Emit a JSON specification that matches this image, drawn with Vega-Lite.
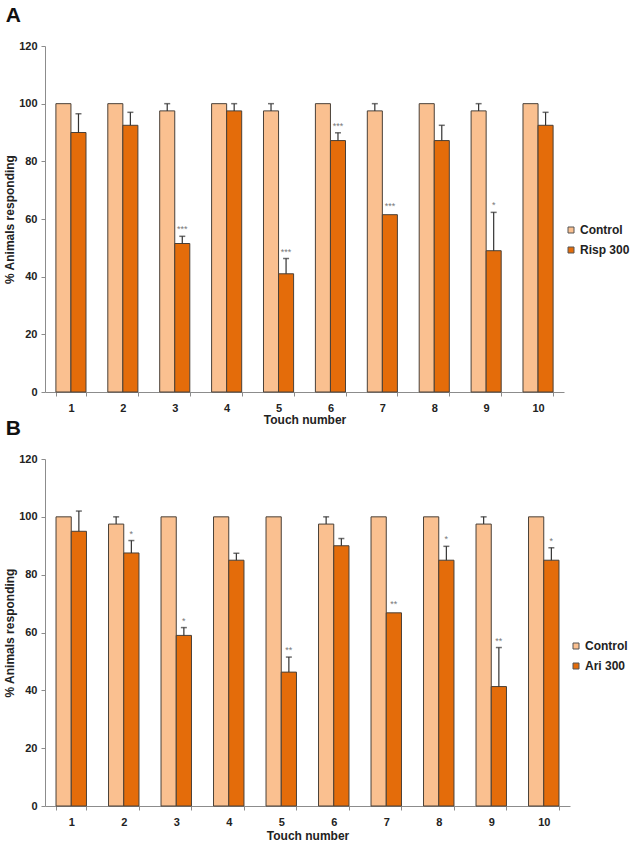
{
  "$schema": "https://vega.github.io/schema/vega-lite/v6.json",
  "background": "white",
  "padding": {"left": 3, "top": 5, "right": 2, "bottom": 5},
  "spacing": -7,
  "datasets": {
    "risp": [
      {"touch": 1, "group": "Control", "value": 100, "err": null, "star": ""},
      {"touch": 1, "group": "Risp 300", "value": 90, "err": 96.5, "star": ""},
      {"touch": 2, "group": "Control", "value": 100, "err": null, "star": ""},
      {"touch": 2, "group": "Risp 300", "value": 92.5, "err": 97, "star": ""},
      {"touch": 3, "group": "Control", "value": 97.5, "err": 100, "star": ""},
      {"touch": 3, "group": "Risp 300", "value": 51.5, "err": 54, "star": "***"},
      {"touch": 4, "group": "Control", "value": 100, "err": null, "star": ""},
      {"touch": 4, "group": "Risp 300", "value": 97.5, "err": 100, "star": ""},
      {"touch": 5, "group": "Control", "value": 97.5, "err": 100, "star": ""},
      {"touch": 5, "group": "Risp 300", "value": 41, "err": 46.3, "star": "***"},
      {"touch": 6, "group": "Control", "value": 100, "err": null, "star": ""},
      {"touch": 6, "group": "Risp 300", "value": 87.2, "err": 89.9, "star": "***"},
      {"touch": 7, "group": "Control", "value": 97.5, "err": 100, "star": ""},
      {"touch": 7, "group": "Risp 300", "value": 61.5, "err": null, "star": "***"},
      {"touch": 8, "group": "Control", "value": 100, "err": null, "star": ""},
      {"touch": 8, "group": "Risp 300", "value": 87.2, "err": 92.5, "star": ""},
      {"touch": 9, "group": "Control", "value": 97.5, "err": 100, "star": ""},
      {"touch": 9, "group": "Risp 300", "value": 49, "err": 62.3, "star": "*"},
      {"touch": 10, "group": "Control", "value": 100, "err": null, "star": ""},
      {"touch": 10, "group": "Risp 300", "value": 92.5, "err": 97, "star": ""}
    ],
    "ari": [
      {"touch": 1, "group": "Control", "value": 100, "err": null, "star": ""},
      {"touch": 1, "group": "Ari 300", "value": 95, "err": 102, "star": ""},
      {"touch": 2, "group": "Control", "value": 97.5, "err": 100, "star": ""},
      {"touch": 2, "group": "Ari 300", "value": 87.5, "err": 91.8, "star": "*"},
      {"touch": 3, "group": "Control", "value": 100, "err": null, "star": ""},
      {"touch": 3, "group": "Ari 300", "value": 59, "err": 61.7, "star": "*"},
      {"touch": 4, "group": "Control", "value": 100, "err": null, "star": ""},
      {"touch": 4, "group": "Ari 300", "value": 85, "err": 87.4, "star": ""},
      {"touch": 5, "group": "Control", "value": 100, "err": null, "star": ""},
      {"touch": 5, "group": "Ari 300", "value": 46.3, "err": 51.5, "star": "**"},
      {"touch": 6, "group": "Control", "value": 97.5, "err": 100, "star": ""},
      {"touch": 6, "group": "Ari 300", "value": 90, "err": 92.5, "star": ""},
      {"touch": 7, "group": "Control", "value": 100, "err": null, "star": ""},
      {"touch": 7, "group": "Ari 300", "value": 66.8, "err": null, "star": "**"},
      {"touch": 8, "group": "Control", "value": 100, "err": null, "star": ""},
      {"touch": 8, "group": "Ari 300", "value": 85, "err": 89.8, "star": "*"},
      {"touch": 9, "group": "Control", "value": 97.5, "err": 100, "star": ""},
      {"touch": 9, "group": "Ari 300", "value": 41.3, "err": 54.8, "star": "**"},
      {"touch": 10, "group": "Control", "value": 100, "err": null, "star": ""},
      {"touch": 10, "group": "Ari 300", "value": 85, "err": 89.3, "star": "*"}
    ]
  },
  "config": {
    "view": {"stroke": null},
    "font": "Liberation Sans",
    "axis": {
      "domainColor": "#8c8c8c",
      "tickColor": "#8c8c8c",
      "grid": false,
      "labelFont": "Liberation Sans",
      "labelFontWeight": "bold",
      "labelFontSize": 11,
      "labelColor": "#222222",
      "titleFont": "Liberation Sans",
      "titleFontWeight": "bold",
      "titleFontSize": 12,
      "titleColor": "#222222",
      "tickSize": 4
    },
    "legend": {
      "labelFont": "Liberation Sans",
      "labelFontWeight": "bold",
      "labelFontSize": 12,
      "labelColor": "#222222",
      "symbolType": "square",
      "symbolSize": 36,
      "symbolStrokeColor": "#555555",
      "symbolStrokeWidth": 1,
      "labelOffset": 3,
      "rowPadding": 8
    },
    "title": {"font": "Liberation Sans", "fontWeight": "bold", "fontSize": 21, "color": "#111111", "anchor": "start", "frame": "bounds"}
  },
  "vconcat": [
    {
      "width": 519,
      "height": 346,
      "title": {"text": "A", "offset": 14, "dx": 2},
      "data": {"name": "risp"},
      "encoding": {
        "x": {"field": "touch", "type": "ordinal", "scale": {"paddingInner": 0.42, "paddingOuter": 0.21},
              "axis": {"labelAngle": 0, "title": "Touch number", "tickBand": "extent", "labelPadding": 6, "titlePadding": 1}},
        "xOffset": {"field": "group", "type": "nominal", "sort": ["Control", "Risp 300"], "scale": {"paddingInner": 0, "paddingOuter": 0}}
      },
      "layer": [
        {
          "mark": {"type": "bar", "stroke": "#4a4038", "strokeWidth": 1},
          "encoding": {
            "y": {"field": "value", "type": "quantitative", "scale": {"domain": [0, 120]},
                  "axis": {"values": [0, 20, 40, 60, 80, 100, 120], "title": "% Animals responding", "labelPadding": 4, "titlePadding": 2}},
            "color": {"field": "group", "type": "nominal", "scale": {"domain": ["Control", "Risp 300"], "range": ["#FAC090", "#E46C0A"]},
                      "legend": {"title": null, "orient": "none", "legendX": 520, "legendY": 178}}
          }
        },
        {
          "transform": [{"filter": "datum.err != null"}],
          "mark": {"type": "rule", "color": "#333333", "strokeWidth": 1.2},
          "encoding": {"y": {"field": "value", "type": "quantitative"}, "y2": {"field": "err"}}
        },
        {
          "transform": [{"filter": "datum.err != null"}],
          "mark": {"type": "tick", "color": "#333333", "size": 6, "thickness": 1.5},
          "encoding": {"y": {"field": "err", "type": "quantitative"}}
        },
        {
          "transform": [{"filter": "datum.star != '' && datum.err != null"}],
          "mark": {"type": "text", "fontSize": 9, "color": "#777777", "baseline": "alphabetic", "dy": -4},
          "encoding": {
            "y": {"field": "err", "type": "quantitative"},
            "text": {"field": "star"}
          }
        },
        {
          "transform": [{"filter": "datum.star != '' && datum.err == null"}],
          "mark": {"type": "text", "fontSize": 9, "color": "#777777", "baseline": "alphabetic", "dy": -6},
          "encoding": {
            "y": {"field": "value", "type": "quantitative"},
            "text": {"field": "star"}
          }
        }
      ]
    },
    {
      "width": 525,
      "height": 347,
      "title": {"text": "B", "offset": 14, "dx": 2},
      "data": {"name": "ari"},
      "encoding": {
        "x": {"field": "touch", "type": "ordinal", "scale": {"paddingInner": 0.42, "paddingOuter": 0.21},
              "axis": {"labelAngle": 0, "title": "Touch number", "tickBand": "extent", "labelPadding": 6, "titlePadding": 3}},
        "xOffset": {"field": "group", "type": "nominal", "sort": ["Control", "Ari 300"], "scale": {"paddingInner": 0, "paddingOuter": 0}}
      },
      "layer": [
        {
          "mark": {"type": "bar", "stroke": "#4a4038", "strokeWidth": 1},
          "encoding": {
            "y": {"field": "value", "type": "quantitative", "scale": {"domain": [0, 120]},
                  "axis": {"values": [0, 20, 40, 60, 80, 100, 120], "title": "% Animals responding", "labelPadding": 4, "titlePadding": 2}},
            "color": {"field": "group", "type": "nominal", "scale": {"domain": ["Control", "Ari 300"], "range": ["#FAC090", "#E46C0A"]},
                      "legend": {"title": null, "orient": "none", "legendX": 525, "legendY": 181}}
          }
        },
        {
          "transform": [{"filter": "datum.err != null"}],
          "mark": {"type": "rule", "color": "#333333", "strokeWidth": 1.2},
          "encoding": {"y": {"field": "value", "type": "quantitative"}, "y2": {"field": "err"}}
        },
        {
          "transform": [{"filter": "datum.err != null"}],
          "mark": {"type": "tick", "color": "#333333", "size": 6, "thickness": 1.5},
          "encoding": {"y": {"field": "err", "type": "quantitative"}}
        },
        {
          "transform": [{"filter": "datum.star != '' && datum.err != null"}],
          "mark": {"type": "text", "fontSize": 9, "color": "#777777", "baseline": "alphabetic", "dy": -4},
          "encoding": {
            "y": {"field": "err", "type": "quantitative"},
            "text": {"field": "star"}
          }
        },
        {
          "transform": [{"filter": "datum.star != '' && datum.err == null"}],
          "mark": {"type": "text", "fontSize": 9, "color": "#777777", "baseline": "alphabetic", "dy": -6},
          "encoding": {
            "y": {"field": "value", "type": "quantitative"},
            "text": {"field": "star"}
          }
        }
      ]
    }
  ],
  "resolve": {"scale": {"color": "independent", "x": "independent", "xOffset": "independent"}, "legend": {"color": "independent"}}
}
